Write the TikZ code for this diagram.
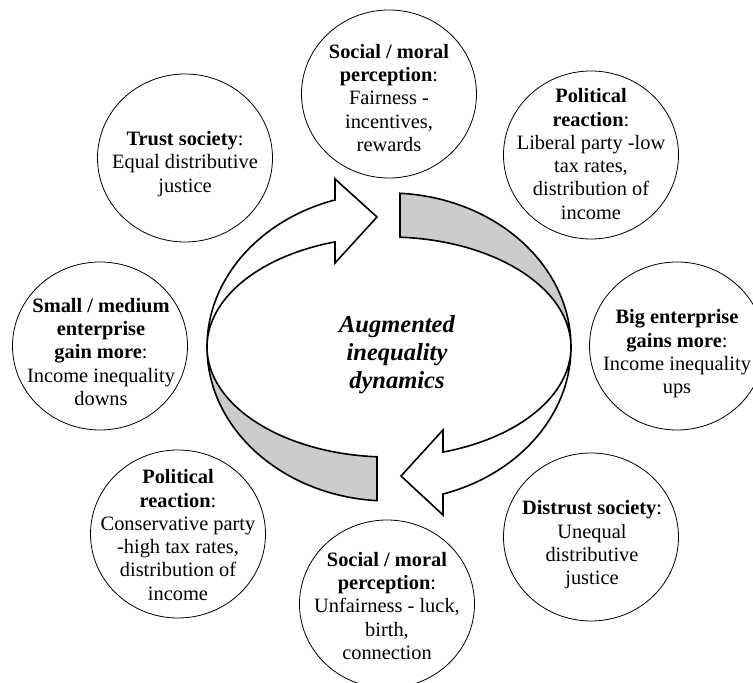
\documentclass[tikz,border=0pt]{standalone}
\usepackage{fontspec}
\setmainfont{Liberation Serif}
\usetikzlibrary{shapes,arrows}
\usetikzlibrary{arrows.meta, positioning}
\definecolor{bandgray}{RGB}{204,204,204}

\begin{document}
\begin{tikzpicture}[x=1pt, y=1pt,
    bubble/.style={draw, ellipse, minimum width=175pt, minimum height=168pt, inner sep=0pt, line width=0.8pt},
    txt/.style={align=center, inner sep=0pt, font=\fontsize{20.4}{23.3}\selectfont},
    band/.style={draw, line width=1.6pt, fill=bandgray},
    shaft/.style={draw, line width=1.6pt, fill=white}]
          \useasboundingbox (0,0) rectangle (753,683);

          \draw[band] (400,489.7) arc[start angle=86.53, end angle=0, x radius=182, y radius=154]
                arc[start angle=0, end angle=86.53, x radius=182, y radius=110] -- cycle;
          \draw[band] (207,336) arc[start angle=180, end angle=266.22, x radius=182, y radius=154]
                -- (377,226.2) arc[start angle=266.22, end angle=180, x radius=182, y radius=110] -- cycle;
          \draw[shaft] (207,336) arc[start angle=180, end angle=107.26, x radius=182, y radius=154]
                -- (335,504) -- (377,466) -- (335,420) -- (335,441.1)
                arc[start angle=107.26, end angle=180, x radius=182, y radius=110] -- cycle;
          \draw[shaft] (571,336) arc[start angle=360, end angle=287.26, x radius=182, y radius=154]
                -- (443,168) -- (401,207) -- (443,253) -- (443,230.9)
                arc[start angle=287.26, end angle=360, x radius=182, y radius=110] -- cycle;

          \node[align=center, font=\bfseries\itshape\fontsize{24.5}{28}\selectfont] (0) at (397,328) {Augmented\\inequality\\dynamics};

          \node[bubble] (1) at (389,589) {};
          \node[bubble] (2) at (591,528) {};
          \node[bubble] (3) at (677,337) {};
          \node[bubble] (4) at (591,146) {};
          \node[bubble] (5) at (387,79) {};
          \node[bubble] (6) at (178,149) {};
          \node[bubble] (7) at (100,337) {};
          \node[bubble] (8) at (185,525) {};

          \node[txt] (t1) at (389,585) {\textbf{Social / moral}\\\textbf{perception}:\\Fairness -\\incentives,\\rewards};
          \node[txt] (t2) at (591,529) {\textbf{Political}\\\textbf{reaction}:\\Liberal party -low\\tax rates,\\distribution of\\income};
          \node[txt] (t3) at (677,329) {\textbf{Big enterprise}\\\textbf{gains more}:\\Income inequality\\ups};
          \node[txt] (t4) at (592,138) {\textbf{Distrust society}:\\Unequal\\distributive\\justice};
          \node[txt] (t5) at (387,77) {\textbf{Social / moral}\\\textbf{perception}:\\Unfairness - luck,\\birth,\\connection};
          \node[txt] (t6) at (178,148) {\textbf{Political}\\\textbf{reaction}:\\Conservative party\\-high tax rates,\\distribution of\\income};
          \node[txt] (t7) at (101,331) {\textbf{Small / medium}\\\textbf{enterprise}\\\textbf{gain more}:\\Income inequality\\downs};
          \node[txt] (t8) at (185,519) {\textbf{Trust society}:\\Equal distributive\\justice};
    \end{tikzpicture}
\end{document}
